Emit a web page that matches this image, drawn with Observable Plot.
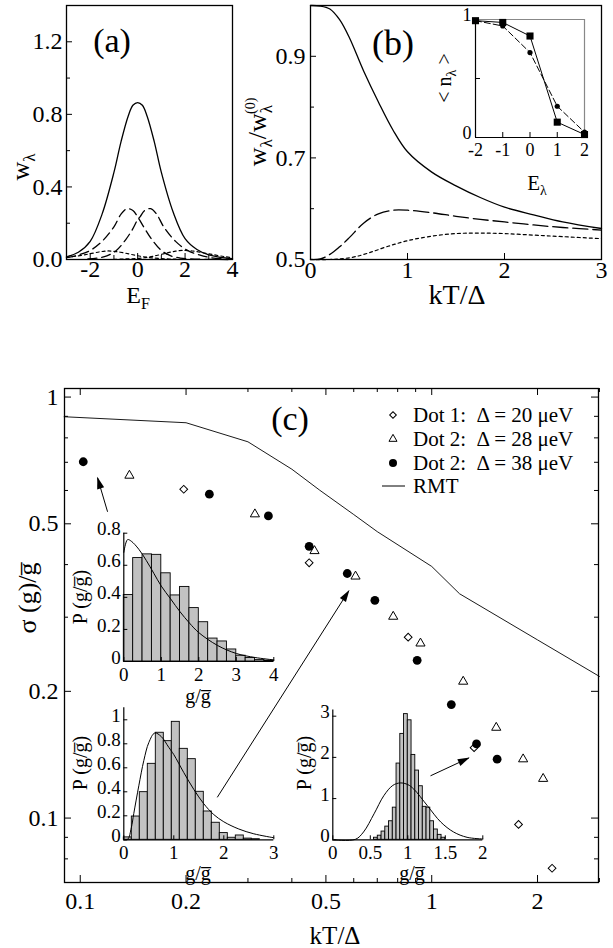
<!DOCTYPE html>
<html><head><meta charset="utf-8">
<script src="https://cdn.jsdelivr.net/npm/d3@7"></script>
<script src="https://cdn.jsdelivr.net/npm/@observablehq/plot@0.6"></script>
<style>
body{margin:0;background:#fff;}
#root{position:relative;width:613px;height:948px;overflow:hidden;background:#fff;font-family:"Liberation Serif","Tinos","Nimbus Roman","DejaVu Serif",serif;}
#root svg, #root svg text{font-family:"Liberation Serif","Tinos","Nimbus Roman","DejaVu Serif",serif !important;}
</style></head><body><div id="root"></div>
<script>
const FONT = "Liberation Serif, Tinos, Nimbus Roman, DejaVu Serif, serif";
const PW = 613, PH = 948;
const root = document.getElementById("root");

// ---------------- Panel (a) data ----------------
const aSolidE = [-3,-2.5,-2,-1.5,-1,-0.7,-0.4,-0.2,0,0.2,0.4,0.7,1,1.5,2,2.5,3,3.5,4];
const aSolidW = [0.015,0.04,0.10,0.25,0.48,0.65,0.79,0.85,0.865,0.85,0.79,0.65,0.48,0.26,0.115,0.055,0.025,0.012,0.005];
const aDashLE = [-3,-2.5,-2,-1.5,-1,-0.7,-0.45,-0.2,0,0.3,0.6,1,1.4,1.8,2.2,3,4];
const aDashLW = [0.01,0.025,0.05,0.1,0.18,0.25,0.28,0.27,0.235,0.17,0.11,0.05,0.02,0.008,0.003,0.001,0];
const aDashRE = [-2.1,-1.7,-1.3,-0.9,-0.5,-0.2,0,0.1,0.3,0.55,0.8,1.1,1.6,2.1,2.6,3.1,4];
const aDashRW = [0.003,0.008,0.02,0.05,0.11,0.17,0.22,0.235,0.27,0.28,0.25,0.18,0.1,0.05,0.025,0.01,0.002];
const aDotLE = [-3,-2.5,-2,-1.6,-1.3,-1,-0.6,-0.2,0.2,0.6,1,1.5,2];
const aDotLW = [0.012,0.02,0.032,0.042,0.047,0.045,0.037,0.026,0.016,0.009,0.005,0.002,0.001];
const aDotRE = [-1,-0.5,0,0.4,0.8,1.2,1.6,1.9,2.3,2.8,3.3,3.7,4];
const aDotRW = [0.001,0.003,0.006,0.012,0.022,0.035,0.046,0.05,0.047,0.036,0.024,0.015,0.01];
const aXTicks = [-2,0,2,4], aXMinor = [-1,1,3];
const aYTicks = [0,0.4,0.8,1.2], aYMinor = [0.2,0.6,1.0];

// ---------------- Panel (b) data ----------------
const bT = [0,0.1,0.2,0.3,0.4,0.55,0.7,0.85,1.0,1.25,1.5,1.75,2,2.3,2.6,3];
const bSolid = [1.0,0.999,0.993,0.972,0.937,0.87,0.81,0.755,0.712,0.672,0.645,0.622,0.603,0.588,0.574,0.561];
const bDash  = [0.5,0.501,0.51,0.525,0.543,0.572,0.59,0.597,0.597,0.592,0.585,0.579,0.574,0.568,0.563,0.558];
const bDotT = [0,0.2,0.3,0.45,0.6,0.8,1.0,1.25,1.5,1.75,2,2.3,2.6,3];
const bDot  = [0.5,0.5,0.501,0.505,0.513,0.526,0.537,0.546,0.551,0.552,0.551,0.548,0.545,0.541];
const bXTicks = [0,1,2,3], bYTicks = [0.5,0.7,0.9], bYMinor = [0.6,0.8,1.0];
// inset (b)
const bInE = [-2,-1,0,1,2];
const bInSquare = [0.99,0.975,0.86,0.13,0.025];
const bInCircle = [0.99,0.945,0.72,0.265,0.045];

// ---------------- Panel (c) data ----------------
const d20T = [0.197,0.448,0.857,1.32,1.766,2.20];
const d20S = [0.604,0.404,0.269,0.147,0.0966,0.076];
const d28T = [0.138,0.314,0.464,0.607,0.777,0.929,1.229,1.526,1.82,2.075];
const d28S = [0.651,0.527,0.431,0.375,0.301,0.260,0.211,0.164,0.138,0.124];
const d38T = [0.102,0.233,0.343,0.448,0.575,0.689,0.909,1.137,1.341,1.535];
const d38S = [0.702,0.588,0.522,0.442,0.381,0.329,0.237,0.186,0.150,0.138];
const rmtT = [0.09,0.2,0.3,0.4,0.48,0.6,0.7,1,1.2,2,3];
const rmtS = [0.898,0.869,0.783,0.674,0.601,0.526,0.479,0.396,0.341,0.265,0.217];
const cXTicks = [0.1,0.2,0.5,1,2], cXMinor = [0.3,0.4,0.6,0.7,0.8,0.9,3];
const cYTicks = [0.1,0.2,0.5,1], cYMinor = [0.08,0.09,0.3,0.4,0.6,0.7,0.8,0.9];
const legendLabels = ["Dot 1:  Δ = 20 μeV", "Dot 2:  Δ = 28 μeV", "Dot 2:  Δ = 38 μeV", "RMT"];
// arrows from insets (kT/Δ, σ)
const arrowFromT = [0.1196,0.2454,0.992], arrowFromS = [0.534,0.112,0.126];
const arrowToT = [0.112,0.581,1.275], arrowToS = [0.643,0.3467,0.1389];
// inset histograms
const h1Lo = [0,0.25,0.5,0.75,1,1.25,1.5,1.75,2,2.25,2.5,2.75,3,3.25,3.5,3.75];
const h1P  = [0.415,0.645,0.668,0.665,0.55,0.412,0.465,0.333,0.245,0.143,0.125,0.075,0.036,0.022,0.01,0.005];
const h1W = 0.25;
const c1X = [0,0.1,0.2,0.4,0.6,0.8,1.0,1.25,1.5,1.75,2,2.5,3,3.5,4];
const c1P = [0.68,0.76,0.75,0.70,0.63,0.55,0.47,0.39,0.31,0.24,0.18,0.10,0.05,0.025,0.01];
const h2Lo = [0,0.16,0.32,0.48,0.64,0.80,0.96,1.12,1.28,1.44,1.60,1.76,1.92,2.08,2.24,2.40,2.56];
const h2P  = [0.02,0.194,0.397,0.633,0.892,0.822,0.983,0.758,0.672,0.40,0.236,0.142,0.056,0.017,0.036,0.01,0.005];
const h2W = 0.16;
const c2X = [0,0.08,0.15,0.2,0.3,0.4,0.5,0.62,0.75,0.9,1.0,1.2,1.4,1.6,1.8,2.0,2.3,2.6,3.0];
const c2P = [0,0.005,0.1,0.22,0.45,0.66,0.81,0.89,0.86,0.77,0.71,0.56,0.42,0.30,0.21,0.15,0.09,0.05,0.017];
const h3Lo = [0.55,0.6,0.65,0.7,0.75,0.8,0.85,0.9,0.95,1.0,1.05,1.1,1.15,1.2,1.25,1.3,1.35,1.4,1.45];
const h3P  = [0.05,0.1,0.2,0.32,0.45,0.78,1.85,2.57,3.05,2.9,2.06,1.68,1.3,0.8,0.78,0.45,0.25,0.12,0.05];
const h3W = 0.05;
const c3X = [0,0.3,0.41,0.55,0.68,0.8,0.9,1.0,1.08,1.26,1.44,1.61,1.79,2.0];
const c3P = [0,0.01,0.19,0.63,1.07,1.32,1.38,1.34,1.23,0.83,0.43,0.19,0.06,0.02];

// ---------------- layout (page pixel frames) ----------------
const FA = [66,5,232,259], FB = [310,5,601,259], FBi = [475,19,584,137];
const FC = [64,388,598,882];
const FC1 = [123.3,532.7,273.3,661], FC2 = [123.3,707.3,273.3,839.3], FC3 = [332.3,709.5,482.3,839.3];

const zip = (xs, ys) => xs.map((x,i) => ({x, y: ys[i]}));

function panel(frame, opts, fs) {
  const [l,t,r,b] = frame;
  const svg = Plot.plot(Object.assign({
    width: PW, height: PH, marginLeft: l, marginTop: t, marginRight: PW - r, marginBottom: PH - b,
    style: {background: "transparent", fontSize: fs + "px", color: "black", overflow: "visible"}
  }, opts));
  Object.assign(svg.style, {position: "absolute", left: "0px", top: "0px", background: "transparent", overflow: "visible"});
  svg.setAttribute("font-family", FONT);
  root.appendChild(svg);
  return svg;
}
const fh = f => f[3]-f[1], fw = f => f[2]-f[0];
const tB = (v,f,len,o={}) => Plot.ruleX(v, {x: d=>d, insetTop: fh(f)-len, strokeWidth: 1, ...o});
const tT = (v,f,len,o={}) => Plot.ruleX(v, {x: d=>d, insetBottom: fh(f)-len, strokeWidth: 1, ...o});
const tL = (v,f,len,o={}) => Plot.ruleY(v, {y: d=>d, insetRight: fw(f)-len, strokeWidth: 1, ...o});
const tR = (v,f,len,o={}) => Plot.ruleY(v, {y: d=>d, insetLeft: fw(f)-len, strokeWidth: 1, ...o});

function addText(svg, x, y, parts, {size=24, anchor="middle", rotate=0}={}) {
  const t = d3.select(svg).append("text")
    .attr("transform", `translate(${x},${y}) rotate(${rotate})`)
    .attr("text-anchor", anchor).attr("font-size", size)
    .attr("fill", "black").style("white-space", "pre");
  for (const p of parts) {
    const ts = t.append("tspan").text(p.t);
    if (p.dy) ts.attr("dy", p.dy);
    if (p.dx) ts.attr("dx", p.dx);
    if (p.size) ts.attr("font-size", p.size);
  }
  return t;
}

// ================= Panel (a) =================
const svgA = panel(FA, {
  x: {domain: [-3,4]}, y: {domain: [0,1.4]},
  marks: [
    Plot.line(zip(aSolidE,aSolidW), {x:"x", y:"y", curve:"catmull-rom", strokeWidth:1.3}),
    Plot.line(zip(aDashLE,aDashLW), {x:"x", y:"y", curve:"catmull-rom", strokeWidth:1.3, strokeDasharray:"9,5"}),
    Plot.line(zip(aDashRE,aDashRW), {x:"x", y:"y", curve:"catmull-rom", strokeWidth:1.3, strokeDasharray:"9,5"}),
    Plot.line(zip(aDotLE,aDotLW), {x:"x", y:"y", curve:"catmull-rom", strokeWidth:1.2, strokeDasharray:"3,3"}),
    Plot.line(zip(aDotRE,aDotRW), {x:"x", y:"y", curve:"catmull-rom", strokeWidth:1.2, strokeDasharray:"3,3"}),
    tB(aXTicks, FA, 6), tB(aXMinor, FA, 4),
    tL(aYTicks, FA, 6), tL(aYMinor, FA, 4),
    Plot.frame({strokeWidth: 1.3}),
    Plot.axisX({ticks: aXTicks, tickSize: 0, tickPadding: 0, tickFormat: d => String(d), label: null}),
    Plot.axisY({ticks: aYTicks, tickSize: 0, tickPadding: 4, tickFormat: d3.format(".1f"), label: null})
  ]
}, 24);
addText(svgA, 112, 52, [{t:"(a)"}], {size: 34});
addText(svgA, 138, 303, [{t:"E"},{t:"F", dy: 6, size: 16}], {size: 24});
addText(svgA, 29, 167, [{t:"w"},{t:"λ", dy: 6, size: 17}], {size: 26, rotate: -90});

// ================= Panel (b) =================
const svgB = panel(FB, {
  x: {domain: [0,3]}, y: {domain: [0.5,1.0]},
  marks: [
    Plot.line(zip(bT,bSolid), {x:"x", y:"y", curve:"catmull-rom", strokeWidth:1.3}),
    Plot.line(zip(bT,bDash), {x:"x", y:"y", curve:"catmull-rom", strokeWidth:1.3, strokeDasharray:"15,5"}),
    Plot.line(zip(bDotT,bDot), {x:"x", y:"y", curve:"catmull-rom", strokeWidth:1.2, strokeDasharray:"3,3"}),
    tB(bXTicks, FB, 6),
    tL(bYTicks, FB, 6), tL(bYMinor, FB, 4),
    Plot.frame({strokeWidth: 1.3}),
    Plot.axisX({ticks: bXTicks, tickSize: 0, tickPadding: 1, tickFormat: d => String(d), label: null}),
    Plot.axisY({ticks: bYTicks, tickSize: 0, tickPadding: 5, tickFormat: d3.format(".1f"), label: null})
  ]
}, 24);
addText(svgB, 393, 55, [{t:"(b)"}], {size: 36});
addText(svgB, 457, 304, [{t:"kT/Δ"}], {size: 28});
addText(svgB, 266, 132, [{t:"w"},{t:"λ", dy: 6, size: 17},{t:"/w", dy: -6},{t:"λ", dy: 6, size: 17},{t:"(0)", dx: -9, dy: -17, size: 14}], {size: 26, rotate: -90});

// inset (b)
const svgBi = panel(FBi, {
  x: {domain: [-2,2]}, y: {domain: [0,1]},
  marks: [
    Plot.ruleX([2], {stroke: "#888", strokeWidth: 1.2}),
    Plot.ruleY([1], {stroke: "#888", strokeWidth: 1.2}),
    Plot.ruleX([-2], {strokeWidth: 1.2}),
    Plot.ruleY([0], {strokeWidth: 1.2}),
    tB([-1,0,1], FBi, 5), tL([0.5], FBi, 5),
    Plot.line(zip(bInE,bInCircle), {x:"x", y:"y", strokeWidth:1, strokeDasharray:"6,3"}),
    Plot.line(zip(bInE,bInSquare), {x:"x", y:"y", strokeWidth:1}),
    Plot.dot(zip(bInE,bInCircle), {x:"x", y:"y", r:2.6, fill:"black"}),
    Plot.dot(zip(bInE,bInSquare), {x:"x", y:"y", r:4, symbol:"square", fill:"black"}),
    Plot.axisX({ticks: bInE, tickSize: 0, tickPadding: 6, tickFormat: d => String(d), label: null}),
    Plot.axisY({ticks: [0,1], tickSize: 0, tickPadding: 4, dy: -4, tickFormat: d => String(d), label: null})
  ]
}, 18);
addText(svgBi, 451, 78, [{t:"< n"},{t:"λ", dy: 5, size: 14},{t:" >", dy: -5}], {size: 20, rotate: -90});
addText(svgBi, 537, 190, [{t:"E"},{t:"λ", dy: 5, size: 14}], {size: 21});

// ================= Panel (c) =================
const svgC = panel(FC, {
  x: {type: "log", domain: [0.0902, 2.982]}, y: {type: "log", domain: [0.0703, 1.048]},
  marks: [
    tB(cXTicks, FC, 7), tB(cXMinor, FC, 4), tT(cXTicks, FC, 7), tT(cXMinor, FC, 4),
    tL(cYTicks, FC, 7), tL(cYMinor, FC, 4), tR(cYTicks, FC, 7), tR(cYMinor, FC, 4),
    Plot.frame({strokeWidth: 1.3}),
    Plot.line(zip(rmtT,rmtS), {x:"x", y:"y", strokeWidth:0.9}),
    Plot.link(arrowFromT.map((t,i)=>({x1:t, y1:arrowFromS[i], x2:arrowToT[i], y2:arrowToS[i]})),
      {x1:"x1", y1:"y1", x2:"x2", y2:"y2", strokeWidth:1, markerEnd:"arrow"}),
    Plot.dot(zip(d20T,d20S), {x:"x", y:"y", symbol:"square", rotate:45, r:3.1, fill:"white", stroke:"black", strokeWidth:1}),
    Plot.dot(zip(d28T,d28S), {x:"x", y:"y", symbol:"triangle", r:3.4, fill:"white", stroke:"black", strokeWidth:1}),
    Plot.dot(zip(d38T,d38S), {x:"x", y:"y", r:4.4, fill:"black"}),
    Plot.axisX({ticks: cXTicks, tickSize: 0, tickPadding: 9, tickFormat: d => String(d), label: null}),
    Plot.axisY({ticks: cYTicks, tickSize: 0, tickPadding: 6, tickFormat: d => String(d), label: null})
  ]
}, 24);
// filled arrowheads
d3.select(svgC).selectAll("marker").each(function() {
  const m = d3.select(this);
  m.attr("viewBox", "-12 -5 14 10").attr("markerWidth", 14).attr("markerHeight", 10)
   .attr("markerUnits", "userSpaceOnUse").attr("refX", 0).attr("refY", 0).attr("orient", "auto");
  m.selectAll("*").remove();
  m.append("path").attr("d", "M-11,-3.6L1,0L-11,3.6Z").attr("fill", "black").attr("stroke", "none");
});
addText(svgC, 290, 430, [{t:"(c)"}], {size: 34});
addText(svgC, 335, 944, [{t:"kT/Δ"}], {size: 25});
addText(svgC, 36, 598, [{t:"σ (g)/g\u0305"}], {size: 26, rotate: -90});
// legend
{
  const g = d3.select(svgC).append("g").attr("text-anchor", "start");
  const syms = ["diamond", "triangle", "circle", "line"];
  const ys = [415, 439, 463, 486];
  syms.forEach((sym, i) => {
    const y = ys[i];
    if (sym === "diamond") g.append("path").attr("d", d3.symbol(d3.symbolSquare, 22)()).attr("transform", `translate(393,${y}) rotate(45)`).attr("fill","white").attr("stroke","black");
    if (sym === "triangle") g.append("path").attr("d", d3.symbol(d3.symbolTriangle, 28)()).attr("transform", `translate(393,${y})`).attr("fill","white").attr("stroke","black");
    if (sym === "circle") g.append("circle").attr("cx", 393).attr("cy", y).attr("r", 4).attr("fill","black");
    if (sym === "line") g.append("line").attr("x1", 382).attr("x2", 405).attr("y1", y).attr("y2", y).attr("stroke","black");
    g.append("text").attr("x", 413).attr("y", y + 7).attr("text-anchor", "start").attr("font-size", 21).style("white-space","pre").text(legendLabels[i]);
  });
}

// ---- inset histograms ----
function histInset(frame, lo, p, w, cx, cp, xdom, ydom, xt, yt, yfmt) {
  return panel(frame, {
    x: {domain: xdom}, y: {domain: ydom},
    marks: [
      Plot.rectY(lo.map((x,i)=>({x1:x, x2:x+w, y:p[i]})), {x1:"x1", x2:"x2", y:"y", fill:"#c2c2c2", stroke:"black", strokeWidth:0.9}),
      Plot.line(zip(cx,cp), {x:"x", y:"y", curve:"catmull-rom", strokeWidth:1}),
      Plot.ruleX([xdom[0]], {strokeWidth:1.2}),
      Plot.ruleY([0], {strokeWidth:1.2}),
      tB(xt, frame, 4), tL(yt, frame, 4),
      Plot.axisX({ticks: xt, tickSize: 0, tickPadding: 6, tickFormat: d => String(d), label: null}),
      Plot.axisY({ticks: yt, tickSize: 0, tickPadding: 3, dy: -4, tickFormat: yfmt, label: null})
    ]
  }, 19);
}
const svgI1 = histInset(FC1, h1Lo, h1P, h1W, c1X, c1P, [0,4], [0,0.8], [0,1,2,3,4], [0,0.2,0.4,0.6,0.8], d => d === 0 ? "0" : d3.format(".1f")(d));
addText(svgI1, 87, 597, [{t:"P (g/g\u0305)"}], {size: 20, rotate: -90});
addText(svgI1, 198, 703, [{t:"g/g\u0305"}], {size: 20});
const svgI2 = histInset(FC2, h2Lo, h2P, h2W, c2X, c2P, [0,3], [0,1.1], [0,1,2,3], [0,0.2,0.4,0.6,0.8,1], d => (d === 0 || d === 1) ? String(d) : d3.format(".1f")(d));
addText(svgI2, 87, 763, [{t:"P (g/g\u0305)"}], {size: 20, rotate: -90});
addText(svgI2, 198, 880, [{t:"g/g\u0305"}], {size: 20});
const svgI3 = histInset(FC3, h3Lo, h3P, h3W, c3X, c3P, [0,2], [0,3.15], [0,0.5,1,1.5,2], [0,1,2,3], d => String(d));
addText(svgI3, 311, 763, [{t:"P (g/g\u0305)"}], {size: 20, rotate: -90});
addText(svgI3, 412, 880, [{t:"g/g\u0305"}], {size: 20});
</script></body></html>
